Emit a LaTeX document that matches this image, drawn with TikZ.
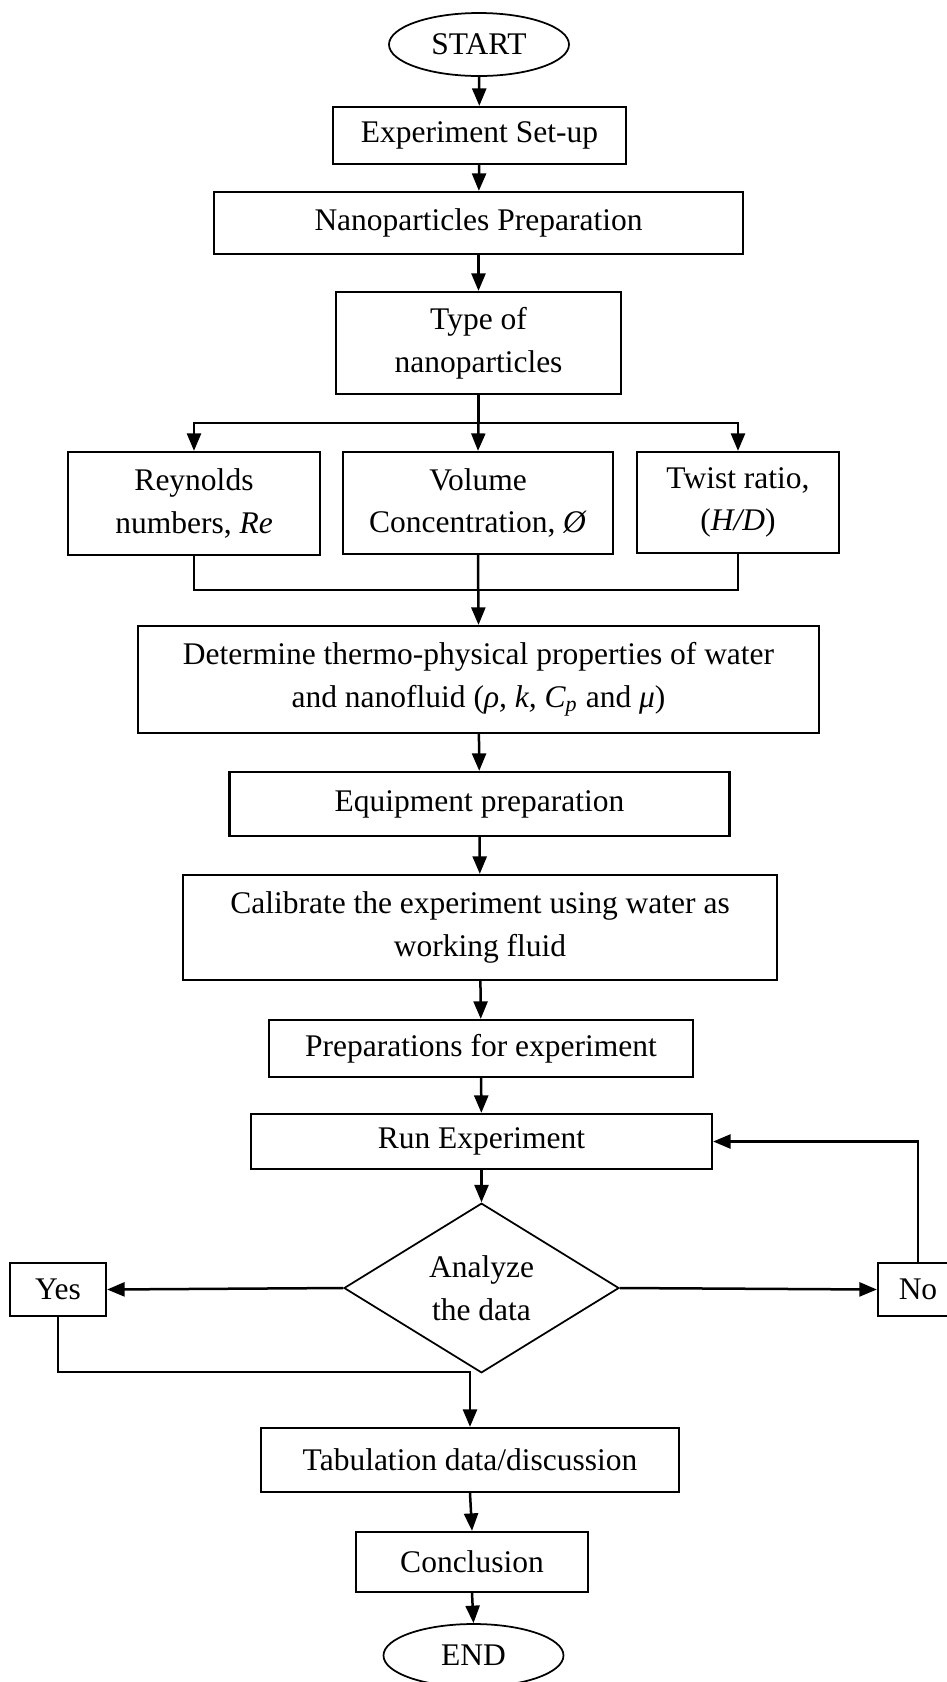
\documentclass[tikz,border=0pt]{standalone}
\usepackage{fontspec}
\setmainfont{Liberation Serif}
\usetikzlibrary{shapes.geometric, arrows.meta}

\begin{document}
\begin{tikzpicture}[
        x=0.4pt, y=-0.4pt,
        font=\fontsize{12.6}{17}\selectfont,
        box/.style={rectangle, draw, line width=0.9pt, align=center, inner sep=2pt},
        terminal/.style={ellipse, draw, line width=0.7pt, minimum width=72pt, minimum height=25.2pt, inner sep=0pt},
        decision/.style={diamond, draw, line width=0.7pt, align=center, minimum width=110pt, minimum height=66.4pt, inner sep=0pt},
        flow/.style={-{Triangle[length=7pt, width=5.6pt]}, line width=1pt},
        link/.style={line width=1pt}
    ]
    \useasboundingbox (0,0) rectangle (947,1682);

    % --- Top: start and preparation ---
    \node[terminal] (start) at (479,44.5) {START};
    \node[box, minimum width=117.2pt, minimum height=22.8pt] (setup) at (479.5,135.5) {Experiment Set-up};
    \node[box, minimum width=211.6pt, minimum height=24.8pt] (prep) at (478.5,223) {Nanoparticles Preparation};
    \node[box, minimum width=114pt, minimum height=40.8pt] (type) at (478.5,343) {Type of\\nanoparticles};

    % --- Parameters ---
    \node[box, minimum width=100.8pt, minimum height=41.2pt] (reyn) at (194,503.5) {Reynolds\\numbers, \textit{Re}};
    \node[box, minimum width=108pt, minimum height=40.8pt] (vol) at (478,503) {Volume\\Concentration, \textit{Ø}};
    \node[box, minimum width=80.8pt, minimum height=40.4pt] (twist) at (738,502.5) {Twist ratio,\\(\textit{H/D})};
    \coordinate (split) at (478.5,423);
    \coordinate (merge) at (478.5,590);

    % --- Experiment ---
    \node[box, minimum width=272.4pt, minimum height=42.8pt] (props) at (478.5,679.5)
        {Determine thermo-physical properties of water\\and nanofluid (\textit{ρ, k, C\textsubscript{p}} and \textit{μ})};
    \node[box, minimum width=200pt, minimum height=25.6pt] (equip) at (479.5,804) {Equipment preparation};
    \node[box, minimum width=237.6pt, minimum height=42pt] (calib) at (480,927.5) {Calibrate the experiment using water as\\working fluid};
    \node[box, minimum width=169.6pt, minimum height=22.8pt] (prepexp) at (481,1048.5) {Preparations for experiment};
    \node[box, minimum width=184.4pt, minimum height=22pt] (run) at (481.5,1141.5) {Run Experiment};
    \node[decision] (analyze) at (481.5,1288) {Analyze\\the data};
    \node[box, minimum width=38.4pt, minimum height=21.2pt] (yes) at (58,1289.5) {Yes};
    \node[box, minimum width=32pt, minimum height=21.2pt] (no) at (918,1289.5) {No};
    \coordinate (join) at (470,1372);

    % --- Results ---
    \node[box, minimum width=167.2pt, minimum height=25.6pt] (tab) at (470,1460) {Tabulation data/discussion};
    \node[box, minimum width=92.8pt, minimum height=24pt] (concl) at (472,1562) {Conclusion};
    \node[terminal] (end) at (473.5,1655.5) {END};

    % connectors
    \draw[flow] (start) -- (setup);
    \draw[flow] (setup) -- (prep);
    \draw[flow] (prep) -- (type);
    \draw[link] (type.south) -- (split);
    \draw[flow] (split) -| (reyn.north);
    \draw[flow] (split) -- (vol.north);
    \draw[flow] (split) -| (twist.north);
    \draw[link] (reyn.south) |- (merge);
    \draw[link] (twist.south) |- (merge);
    \draw[flow] (vol.south) -- (props.north);
    \draw[flow] (props) -- (equip);
    \draw[flow] (equip) -- (calib);
    \draw[flow] (calib) -- (prepexp);
    \draw[flow] (prepexp) -- (run);
    \draw[flow] (run) -- (analyze);
    \draw[flow] (analyze.west) -- (yes.east);
    \draw[flow] (analyze.east) -- (no.west);
    \draw[flow] (no.north) |- (run.east);
    \draw[flow] (yes.south) |- (join) -- (tab.north);
    \draw[flow] (tab.south) -- (concl.north);
    \draw[flow] (concl.south) -- (end.north);

\end{tikzpicture}
\end{document}
